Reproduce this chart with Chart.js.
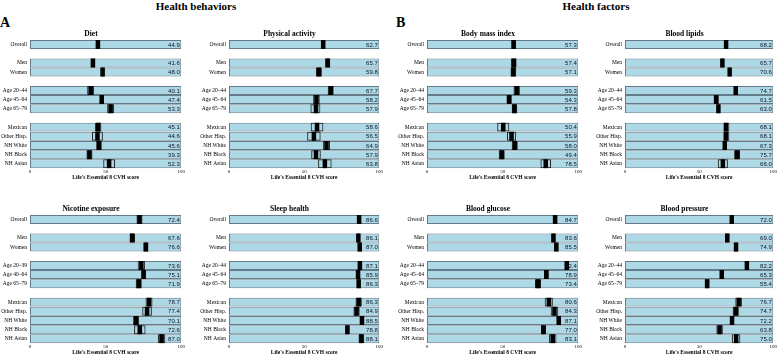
<!DOCTYPE html>
<html>
<head>
<meta charset="utf-8">
<script src="https://cdn.jsdelivr.net/npm/chart.js@4"></script>
<style>
html, body { margin: 0; padding: 0; background: #fff; }
body { width: 777px; height: 354px; position: relative; overflow: hidden; font-family: "Liberation Serif", serif; }
.hdr { position: absolute; top: 0; font-weight: bold; font-size: 11px; transform: translateX(-50%); white-space: nowrap; }
.tag { position: absolute; top: 15px; font-weight: bold; font-size: 14px; }
canvas { position: absolute; }
</style>
</head>
<body>
<div class="hdr" style="left:196px">Health behaviors</div>
<div class="hdr" style="left:596px">Health factors</div>
<div class="tag" style="left:0px">A</div>
<div class="tag" style="left:396px">B</div>

<canvas id="diet" width="185" height="151" style="left:0px;top:30px"></canvas>
<canvas id="pa" width="184" height="151" style="left:199px;top:30px"></canvas>
<canvas id="bmi" width="185" height="151" style="left:397px;top:30px"></canvas>
<canvas id="lipids" width="182" height="151" style="left:595px;top:30px"></canvas>
<canvas id="nicotine" width="185" height="151" style="left:0px;top:205px"></canvas>
<canvas id="sleep" width="184" height="151" style="left:199px;top:205px"></canvas>
<canvas id="glucose" width="185" height="151" style="left:397px;top:205px"></canvas>
<canvas id="bp" width="182" height="151" style="left:595px;top:205px"></canvas>

<script>
// rows, with a blank row between groups
const rowLabels = ['Overall', '', 'Men', 'Women', '', 'Age 20–44', 'Age 45–64', 'Age 65–79', '', 'Mexican', 'Other Hisp.', 'NH White', 'NH Black', 'NH Asian'];
const nicotineLabels = ['Overall', '', 'Men', 'Women', '', 'Age 20–39', 'Age 40–64', 'Age 65–79', '', 'Mexican', 'Other Hisp.', 'NH White', 'NH Black', 'NH Asian'];
const xTicks = [0, 50, 100];

const dietScore = [44.9, 41.6, 48.0, 40.1, 47.4, 53.3, 45.1, 44.6, 45.6, 39.3, 52.3];
const dietLow   = [43.8, 40.3, 46.8, 37.8, 46.1, 51.0, 43.0, 41.0, 43.8, 37.3, 48.4];
const dietHigh  = [46.0, 42.9, 49.2, 42.3, 48.7, 55.6, 47.2, 48.2, 47.4, 41.3, 56.2];

const paScore = [62.7, 65.7, 59.8, 67.7, 58.2, 57.9, 58.6, 56.5, 64.9, 57.9, 63.8];
const paLow   = [61.6, 64.0, 57.8, 65.7, 56.0, 54.2, 54.4, 52.0, 62.6, 54.7, 59.3];
const paHigh  = [63.8, 67.4, 61.8, 69.7, 60.4, 60.8, 62.8, 61.0, 67.2, 61.1, 68.3];

const nicScore = [72.4, 67.6, 76.6, 73.6, 75.1, 71.9, 78.7, 77.4, 70.1, 72.6, 87.0];
const nicLow   = [70.4, 65.8, 75.0, 71.2, 73.6, 69.9, 76.4, 74.2, 68.2, 68.8, 84.6];
const nicHigh  = [74.4, 69.4, 78.2, 76.0, 76.6, 73.9, 81.0, 80.6, 72.0, 76.4, 89.4];

const sleepScore = [86.6, 86.1, 87.0, 87.1, 85.9, 86.3, 86.3, 84.9, 88.5, 78.8, 88.1];
const sleepLow   = [85.8, 85.2, 86.0, 86.0, 84.8, 85.2, 84.2, 82.8, 87.4, 77.4, 86.2];
const sleepHigh  = [87.4, 87.0, 88.0, 88.2, 87.0, 87.4, 88.4, 87.0, 89.6, 80.2, 90.0];

const bmiScore = [57.3, 57.4, 57.1, 59.3, 54.3, 57.8, 50.4, 55.9, 58.0, 49.4, 78.5];
const bmiLow   = [55.8, 55.6, 55.2, 57.2, 52.6, 56.0, 46.4, 52.9, 56.0, 47.4, 75.0];
const bmiHigh  = [58.8, 59.2, 59.0, 61.4, 56.0, 59.6, 54.4, 58.9, 60.0, 51.4, 82.0];

const lipidScore = [68.2, 65.7, 70.6, 74.7, 61.5, 63.0, 68.1, 68.1, 67.3, 75.7, 66.0];
const lipidLow   = [67.0, 64.4, 69.4, 73.4, 59.8, 61.8, 66.6, 66.4, 66.0, 73.6, 62.6];
const lipidHigh  = [69.4, 67.0, 71.8, 76.0, 63.2, 64.2, 70.4, 70.4, 68.8, 77.6, 69.4];

const glucScore = [84.7, 83.6, 85.5, 92.4, 78.9, 73.4, 80.6, 84.3, 87.1, 77.0, 83.1];
const glucLow   = [83.6, 82.4, 84.3, 91.4, 77.4, 71.4, 77.8, 81.8, 86.0, 75.4, 80.6];
const glucHigh  = [85.8, 84.8, 86.7, 93.4, 80.4, 75.4, 83.2, 86.8, 88.2, 78.6, 85.6];

const bpScore = [72.0, 69.0, 74.9, 82.2, 65.3, 55.4, 76.7, 74.7, 72.2, 63.8, 75.0];
const bpLow   = [70.8, 67.6, 73.6, 81.0, 63.8, 53.8, 74.4, 72.6, 70.8, 61.6, 72.2];
const bpHigh  = [73.2, 70.4, 76.2, 83.4, 66.8, 57.0, 79.0, 76.8, 73.6, 66.0, 77.8];

const MARK = 1.5; // half width of the black estimate block, in score units

// put the 11 values into the 14 row slots (blank rows get null)
function spread(labels, vals) {
  let k = 0;
  return labels.map(l => (l ? vals[k++] : null));
}

const valueLabels = {
  id: 'valueLabels',
  afterDatasetsDraw(chart) {
    const { ctx, scales: { x, y } } = chart;
    const vals = chart.data.datasets[2].score;
    ctx.save();
    ctx.font = '6px "Liberation Sans", Arial, sans-serif';
    ctx.fillStyle = '#0d1526';
    ctx.textAlign = 'right';
    ctx.textBaseline = 'middle';
    vals.forEach((v, i) => {
      if (v == null) return;
      ctx.fillText(v.toFixed(1), x.getPixelForValue(100) - 1.5, y.getPixelForValue(i) + 0.5);
    });
    ctx.restore();
  }
};

function makePanel(id, title, labels, score, low, high) {
  const s = spread(labels, score);
  const lo = spread(labels, low);
  const hi = spread(labels, high);
  const bar = { barPercentage: 0.98, categoryPercentage: 1, grouped: false };

  new Chart(document.getElementById(id), {
    type: 'bar',
    data: {
      labels: labels,
      datasets: [
        { ...bar, order: 3, data: labels.map(l => (l ? [0, 100] : null)),
          backgroundColor: '#add8e6', borderColor: '#667b88', borderWidth: 1, borderSkipped: false },
        { ...bar, order: 2, data: lo.map((v, i) => (v == null ? null : [v, hi[i]])),
          backgroundColor: 'rgba(0,0,0,0)', borderColor: '#262626', borderWidth: 1, borderSkipped: false },
        { ...bar, order: 1, score: s, data: s.map(v => (v == null ? null : [v - MARK, v + MARK])),
          backgroundColor: '#000', borderWidth: 0 }
      ]
    },
    options: {
      indexAxis: 'y',
      responsive: false,
      animation: false,
      devicePixelRatio: 1,
      layout: { padding: { left: 0, right: 3, top: 0, bottom: 0 } },
      plugins: {
        legend: { display: false },
        tooltip: { enabled: false },
        title: {
          display: true, text: title, color: '#000',
          font: { family: '"Liberation Serif", serif', size: 7.5, weight: 'bold' },
          padding: { top: 0, bottom: 1 }
        }
      },
      scales: {
        x: {
          min: 0, max: 100,
          afterBuildTicks: sc => { sc.ticks = xTicks.map(v => ({ value: v })); },
          grid: { display: false, drawTicks: false },
          border: { display: false },
          ticks: { color: '#000', padding: 0, font: { family: '"Liberation Serif", serif', size: 5 } },
          title: {
            display: true, text: "Life's Essential 8 CVH score", color: '#000', padding: 0,
            font: { family: '"Liberation Serif", serif', size: 5.5, weight: 'bold' }
          }
        },
        y: {
          afterFit: sc => { sc.width = 30; },
          grid: { display: false, drawTicks: false },
          border: { display: false },
          ticks: { color: '#000', padding: 3, autoSkip: false, font: { family: '"Liberation Serif", serif', size: 5.5 } }
        }
      }
    },
    plugins: [valueLabels]
  });
}

makePanel('diet', 'Diet', rowLabels, dietScore, dietLow, dietHigh);
makePanel('pa', 'Physical activity', rowLabels, paScore, paLow, paHigh);
makePanel('bmi', 'Body mass index', rowLabels, bmiScore, bmiLow, bmiHigh);
makePanel('lipids', 'Blood lipids', rowLabels, lipidScore, lipidLow, lipidHigh);
makePanel('nicotine', 'Nicotine exposure', nicotineLabels, nicScore, nicLow, nicHigh);
makePanel('sleep', 'Sleep health', rowLabels, sleepScore, sleepLow, sleepHigh);
makePanel('glucose', 'Blood glucose', rowLabels, glucScore, glucLow, glucHigh);
makePanel('bp', 'Blood pressure', rowLabels, bpScore, bpLow, bpHigh);
</script>
</body>
</html>
